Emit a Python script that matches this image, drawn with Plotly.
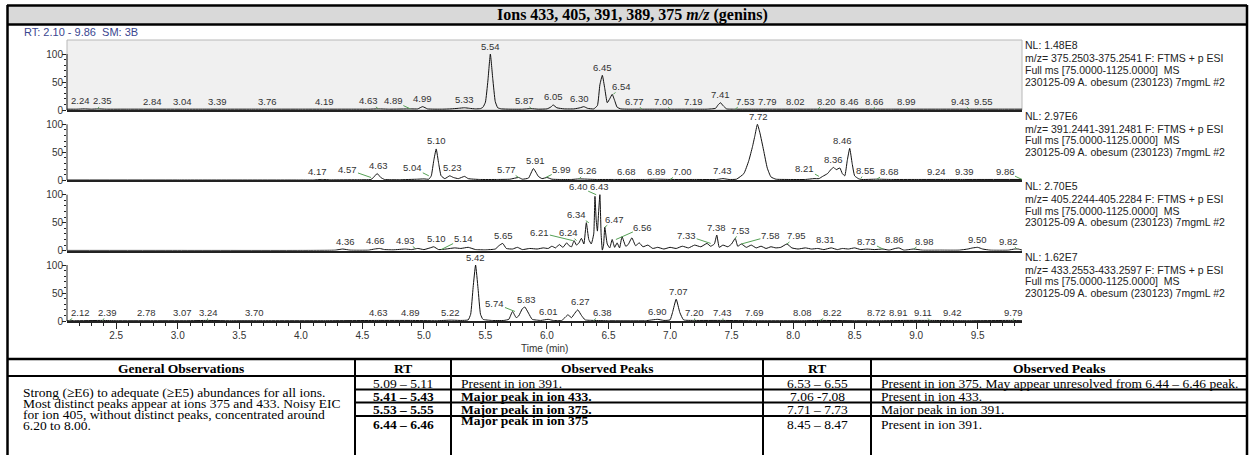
import numpy as np
import plotly.graph_objects as go

W, H = 1250, 455

# ---------------- data ----------------
title_text = "Ions 433, 405, 391, 389, 375 <i>m/z</i> (genins)"
rt_header = "RT: 2.10 - 9.86\u00a0\u00a0SM: 3B"
x_range = [2.10, 9.86]
x_ticks = [2.5, 3.0, 3.5, 4.0, 4.5, 5.0, 5.5, 6.0, 6.5, 7.0, 7.5, 8.0, 8.5, 9.0, 9.5]
y_ticks = [0, 50, 100]
x_title = "Time (min)"

# ion 375
t_375 = [
    2.10, 2.18, 2.24, 2.30, 2.35, 2.42, 2.60, 2.84, 3.04, 3.20,
    3.39, 3.60, 3.76, 4.00, 4.19, 4.40, 4.55, 4.63, 4.72, 4.89,
    4.95, 4.99, 5.03, 5.15, 5.22, 5.28, 5.33, 5.37, 5.42, 5.46,
    5.48, 5.50, 5.52, 5.54, 5.56, 5.58, 5.60, 5.63, 5.70, 5.80,
    5.87, 5.93, 6.00, 6.03, 6.05, 6.08, 6.14, 6.22, 6.27, 6.30,
    6.33, 6.38, 6.41, 6.43, 6.45, 6.47, 6.49, 6.51, 6.53, 6.55,
    6.57, 6.60, 6.66, 6.77, 6.90, 7.00, 7.19, 7.30, 7.37, 7.39,
    7.41, 7.43, 7.46, 7.53, 7.65, 7.79, 8.02, 8.20, 8.35, 8.46,
    8.66, 8.80, 8.99, 9.20, 9.43, 9.55, 9.70, 9.86]
i_375 = [
    1.5, 1.5, 2.0, 1.5, 2.0, 1.5, 1.5, 1.5, 1.5, 1.5,
    1.5, 1.5, 1.5, 1.5, 1.5, 1.5, 1.5, 2.0, 1.5, 2.0,
    2.0, 6.0, 2.0, 1.5, 2.0, 3.0, 4.0, 3.0, 2.0, 2.5,
    5.0, 14.0, 52.0, 100.0, 55.0, 15.0, 4.0, 2.0, 1.5, 1.5,
    2.5, 1.5, 2.0, 5.0, 9.0, 4.0, 2.0, 2.0, 4.0, 6.0,
    3.0, 2.0, 8.0, 45.0, 62.0, 38.0, 13.0, 20.0, 28.0, 17.0,
    5.0, 2.0, 1.5, 1.5, 1.5, 1.5, 1.5, 1.5, 3.0, 9.0,
    13.0, 8.0, 2.0, 1.5, 1.5, 1.5, 1.5, 1.5, 1.5, 1.5,
    1.5, 1.5, 1.5, 1.5, 1.5, 1.5, 1.5, 1.5]
lbl_375 = ["2.24", "2.35", "2.84", "3.04", "3.39", "3.76", "4.19", "4.63", "4.89", "4.99",
           "5.33", "5.54", "5.87", "6.05", "6.30", "6.45", "6.54", "6.77", "7.00", "7.19",
           "7.41", "7.53", "7.79", "8.02", "8.20", "8.46", "8.66", "8.99", "9.43", "9.55"]

# ion 391
t_391 = [
    2.10, 3.00, 4.00, 4.10, 4.17, 4.25, 4.45, 4.57, 4.59, 4.62,
    4.65, 4.68, 4.80, 4.95, 5.00, 5.04, 5.06, 5.08, 5.10, 5.12,
    5.14, 5.17, 5.21, 5.24, 5.28, 5.33, 5.36, 5.45, 5.60, 5.70,
    5.77, 5.80, 5.85, 5.89, 5.93, 5.96, 6.00, 6.04, 6.10, 6.20,
    6.26, 6.40, 6.55, 6.68, 6.80, 6.89, 7.00, 7.20, 7.38, 7.43,
    7.48, 7.54, 7.60, 7.64, 7.67, 7.69, 7.71, 7.73, 7.76, 7.79,
    7.82, 7.86, 7.95, 8.10, 8.17, 8.21, 8.24, 8.28, 8.31, 8.33,
    8.35, 8.38, 8.40, 8.42, 8.44, 8.46, 8.48, 8.50, 8.53, 8.55,
    8.68, 8.80, 9.00, 9.24, 9.39, 9.60, 9.86]
i_391 = [
    0.5, 0.5, 0.5, 0.5, 1.5, 0.8, 1.0, 1.5, 5.0, 12.0,
    5.0, 1.5, 1.0, 2.0, 2.5, 2.0, 8.0, 35.0, 56.0, 30.0,
    8.0, 3.0, 8.0, 5.0, 3.0, 7.0, 3.0, 1.5, 1.5, 2.0,
    5.0, 2.0, 4.0, 21.0, 7.0, 3.0, 5.0, 2.0, 1.5, 1.5,
    2.5, 1.5, 1.5, 1.5, 1.5, 2.0, 1.5, 1.5, 1.5, 3.0,
    1.5, 2.0, 12.0, 35.0, 60.0, 80.0, 100.0, 85.0, 54.0, 22.0,
    6.0, 2.0, 1.5, 1.5, 3.0, 3.0, 7.0, 12.0, 20.0, 23.0,
    19.0, 22.0, 12.0, 8.0, 35.0, 57.0, 30.0, 8.0, 3.0, 1.5,
    2.0, 1.5, 1.5, 1.5, 1.5, 1.5, 1.5]
lbl_391 = ["4.17", "4.57", "4.63", "5.04", "5.10", "5.23", "5.77", "5.91", "5.99", "6.26",
           "6.68", "6.89", "7.00", "7.43", "7.72", "8.21", "8.36", "8.46", "8.55", "8.68",
           "9.24", "9.39", "9.86"]

# ion 405
t_405 = [
    2.10, 3.00, 4.00, 4.28, 4.34, 4.40, 4.55, 4.60, 4.64, 4.68,
    4.75, 4.85, 4.90, 4.95, 5.00, 5.05, 5.08, 5.12, 5.18, 5.25,
    5.30, 5.36, 5.42, 5.50, 5.58, 5.61, 5.64, 5.67, 5.72, 5.76,
    5.80, 5.86, 5.92, 5.97, 6.01, 6.04, 6.07, 6.10, 6.13, 6.16,
    6.18, 6.20, 6.22, 6.24, 6.26, 6.28, 6.30, 6.32, 6.34, 6.36,
    6.38, 6.39, 6.40, 6.41, 6.42, 6.43, 6.44, 6.45, 6.46, 6.47,
    6.49, 6.51, 6.53, 6.55, 6.57, 6.59, 6.61, 6.64, 6.66, 6.69,
    6.72, 6.75, 6.78, 6.82, 6.86, 6.90, 6.95, 7.00, 7.05, 7.10,
    7.15, 7.20, 7.25, 7.30, 7.33, 7.36, 7.38, 7.40, 7.43, 7.47,
    7.50, 7.53, 7.55, 7.58, 7.62, 7.66, 7.70, 7.74, 7.78, 7.82,
    7.86, 7.90, 7.95, 7.99, 8.04, 8.10, 8.15, 8.20, 8.25, 8.31,
    8.36, 8.40, 8.45, 8.50, 8.55, 8.60, 8.66, 8.73, 8.78, 8.83,
    8.86, 8.90, 8.98, 9.05, 9.20, 9.35, 9.42, 9.46, 9.50, 9.54,
    9.60, 9.75, 9.80, 9.83, 9.86]
i_405 = [
    0.5, 0.5, 0.5, 1.0, 3.0, 1.0, 1.0, 3.0, 4.0, 2.0,
    1.5, 3.0, 2.0, 4.0, 2.0, 5.0, 7.0, 2.0, 3.0, 5.0,
    4.0, 6.0, 2.0, 1.5, 3.0, 9.0, 13.0, 4.0, 3.0, 6.0,
    2.0, 4.0, 3.0, 5.0, 4.0, 8.0, 5.0, 11.0, 6.0, 14.0,
    9.0, 7.0, 18.0, 10.0, 14.0, 22.0, 12.0, 50.0, 20.0, 12.0,
    30.0, 97.0, 55.0, 35.0, 70.0, 100.0, 30.0, 1.0, 10.0, 42.0,
    12.0, 5.0, 20.0, 6.0, 14.0, 5.0, 25.0, 8.0, 11.0, 23.0,
    9.0, 14.0, 7.0, 10.0, 4.0, 6.0, 3.0, 6.0, 4.0, 8.0,
    5.0, 10.0, 7.0, 13.0, 8.0, 12.0, 28.0, 6.0, 10.0, 7.0,
    12.0, 22.0, 8.0, 12.0, 6.0, 10.0, 5.0, 8.0, 4.0, 7.0,
    5.0, 6.0, 12.0, 5.0, 3.0, 5.0, 3.0, 4.0, 2.0, 5.0,
    2.0, 4.0, 3.0, 5.0, 2.0, 3.0, 2.0, 3.0, 1.0, 4.0,
    5.0, 1.0, 3.0, 1.0, 1.0, 1.0, 3.0, 5.0, 6.0, 3.0,
    1.0, 1.0, 3.0, 3.0, 1.0]
lbl_405 = ["4.36", "4.66", "4.93", "5.10", "5.14", "5.65", "6.21", "6.24", "6.34", "6.40",
           "6.43", "6.47", "6.56", "7.33", "7.38", "7.53", "7.58", "7.95", "8.31", "8.73",
           "8.86", "8.98", "9.50", "9.82"]

# ion 433
t_433 = [
    2.10, 2.12, 2.16, 2.39, 2.50, 2.78, 3.07, 3.24, 3.40, 3.70,
    4.20, 4.63, 4.89, 5.10, 5.22, 5.30, 5.36, 5.38, 5.40, 5.42,
    5.44, 5.46, 5.48, 5.55, 5.65, 5.69, 5.72, 5.75, 5.77, 5.80,
    5.82, 5.85, 5.88, 5.95, 6.01, 6.05, 6.12, 6.15, 6.17, 6.20,
    6.22, 6.25, 6.28, 6.31, 6.38, 6.50, 6.80, 6.90, 6.95, 7.00,
    7.02, 7.05, 7.08, 7.11, 7.20, 7.43, 7.69, 8.08, 8.22, 8.50,
    8.72, 8.91, 9.11, 9.42, 9.79, 9.86]
i_433 = [
    0.5, 1.0, 0.5, 1.0, 0.5, 0.5, 0.5, 1.0, 0.5, 0.5,
    0.5, 1.0, 1.0, 0.5, 1.5, 1.0, 2.0, 12.0, 60.0, 100.0,
    58.0, 12.0, 3.0, 1.0, 1.0, 3.0, 17.0, 6.0, 9.0, 22.0,
    25.0, 14.0, 3.0, 1.0, 3.0, 1.0, 1.0, 7.0, 11.0, 6.0,
    12.0, 20.0, 10.0, 2.0, 1.0, 0.5, 0.5, 3.0, 1.0, 2.0,
    15.0, 39.0, 15.0, 2.0, 1.0, 1.0, 0.5, 0.5, 1.0, 0.5,
    0.5, 1.0, 1.0, 0.5, 1.0, 0.5]
lbl_433 = ["2.12", "2.39", "2.78", "3.07", "3.24", "3.70", "4.63", "4.89", "5.22", "5.42",
           "5.74", "5.83", "6.01", "6.27", "6.38", "6.90", "7.07", "7.20", "7.43", "7.69",
           "8.08", "8.22", "8.72", "8.91", "9.11", "9.42", "9.79"]

nl_375 = "NL: 1.48E8"
nl_391 = "NL: 2.97E6"
nl_405 = "NL: 2.70E5"
nl_433 = "NL: 1.62E7"
mz_375 = "m/z= 375.2503-375.2541 F: FTMS + p ESI"
mz_391 = "m/z= 391.2441-391.2481 F: FTMS + p ESI"
mz_405 = "m/z= 405.2244-405.2284 F: FTMS + p ESI"
mz_433 = "m/z= 433.2553-433.2597 F: FTMS + p ESI"
scan_line = "Full ms [75.0000-1125.0000]\u00a0\u00a0MS"
sample_line = "230125-09 A. obesum (230123) 7mgmL #2"

# table
tbl_headers = ["General Observations", "RT", "Observed Peaks", "RT", "Observed Peaks"]
gen_obs_lines = ["Strong (\u2265E6) to adequate (\u2265E5) abundances for all ions.",
                 "Most distinct peaks appear at ions 375 and 433. Noisy EIC",
                 "for ion 405, without distinct peaks, concentrated around",
                 "6.20 to 8.00."]
rt_left = ["5.09 \u2013 5.11", "5.41 \u2013 5.43", "5.53 \u2013 5.55", "6.44 \u2013 6.46"]
obs_left = ["Present in ion 391.", "Major peak in ion 433.", "Major peak in ion 375.", "Major peak in ion 375"]
bold_left = [False, True, True, True]
rt_right = ["6.53 \u2013 6.55", "7.06 -7.08", "7.71 \u2013 7.73", "8.45 \u2013 8.47"]
obs_right = ["Present in ion 375. May appear unresolved from 6.44 \u2013 6.46 peak.",
             "Present in ion 433.", "Major peak in ion 391.", "Present in ion 391."]

# ---------------- style / layout ----------------
SANS = "Arial, 'Liberation Sans', sans-serif"
SERIF = "'Times New Roman', 'Liberation Serif', serif"
GREEN = "#55a055"
INK = "#222222"
LBL = "#333333"
LBL_SIZE = 9.5

# label placement tweaks in pixels (dx, dy) and labels drawn with green leader lines
off_375 = {"2.24": (-4, 0), "2.35": (5, 0), "2.84": (-6, 0), "3.39": (-8, 0), "3.76": (-4, 0),
           "4.63": (-10, 0), "4.89": (-17, 0), "5.87": (-6, 0), "6.30": (-4, 0), "6.54": (8, 0),
           "6.77": (-7, 0), "7.00": (-7, 0), "7.53": (10, 0), "8.20": (9, 0), "8.99": (-8, 0),
           "9.43": (-9, 0)}
grn_375 = {"2.35", "4.63", "4.89", "5.87", "6.54", "6.77", "7.00", "7.53", "8.20", "8.66", "9.43"}
off_391 = {"4.17": (-4, 0), "4.57": (-23, 0), "5.04": (-16, 0), "5.77": (-12, 0), "5.99": (16, 0),
           "6.26": (9, 0), "6.68": (-4, 0), "7.00": (12, 0), "8.21": (-14, 0),
           "8.36": (-4, 0), "8.46": (-7, 0), "8.55": (5, 0), "8.68": (13, 0), "9.24": (-9, 0),
           "9.86": (-17, 0)}
grn_391 = {"4.57", "5.04", "5.77", "5.99", "6.26", "7.00", "8.21", "8.55", "8.68", "9.86"}
off_405 = {"4.66": (-7, 0), "4.93": (-10, 0), "5.14": (22, -3), "6.21": (-33, 0), "6.24": (-8, 0),
           "6.34": (-12, 0), "6.40": (-18, 0), "6.47": (10, 0), "6.56": (27, -4), "7.33": (-24, 0),
           "7.53": (5, 0), "7.58": (29, 0), "7.95": (10, 0), "8.31": (-6, 0), "8.73": (-16, 0),
           "8.86": (-4, 0), "8.98": (11, 0), "9.82": (-9, 0)}
grn_405 = {"4.93", "5.14", "6.21", "6.24", "6.34", "6.40", "6.47", "6.56", "7.33", "7.53",
           "7.58", "7.95", "8.73", "8.98", "9.82"}
off_433 = {"2.12": (11, 0), "2.39": (5, 0), "2.78": (-4, 0), "3.07": (-4, 0), "3.24": (1, 0),
           "3.70": (-9, 0), "5.74": (-20, 0), "6.38": (9, 0), "8.22": (12, 0), "8.72": (-5, 0),
           "8.91": (-7, 0), "9.11": (-7, 0), "9.42": (-15, 0)}
grn_433 = {"2.12", "2.39", "3.24", "5.74", "6.38", "7.20", "7.43", "8.22", "9.11", "9.79"}

panels = [
    dict(t=t_375, i=i_375, labels=lbl_375, off=off_375, grn=grn_375, nl=nl_375, mz=mz_375),
    dict(t=t_391, i=i_391, labels=lbl_391, off=off_391, grn=grn_391, nl=nl_391, mz=mz_391),
    dict(t=t_405, i=i_405, labels=lbl_405, off=off_405, grn=grn_405, nl=nl_405, mz=mz_405),
    dict(t=t_433, i=i_433, labels=lbl_433, off=off_433, grn=grn_433, nl=nl_433, mz=mz_433),
]


def PX(x):
    return x / W


def PY(y):
    return 1 - y / H


def note(x, y, text, size, family, color="#000", xanchor="center", yanchor="middle"):
    return dict(x=PX(x), y=PY(y), xref="paper", yref="paper", text=text, showarrow=False,
                xanchor=xanchor, yanchor=yanchor, font=dict(family=family, size=size, color=color))


PLOT_L, PLOT_R = 67, 1022
panel_bottoms = [110, 180.3, 250.7, 321]
PANEL_H = 70

fig = go.Figure()
annotations = []
shapes = []
layout_axes = {}

minor_x = [round(v, 1) for v in np.arange(2.2, 9.86, 0.1) if round(v * 10) % 5 != 0]

for k, p in enumerate(panels):
    sfx = "" if k == 0 else str(k + 1)
    xa, ya = "x" + sfx, "y" + sfx
    fig.add_trace(go.Scatter(
        x=p["t"], y=p["i"], xaxis=xa, yaxis=ya, mode="lines",
        line=dict(color="#111111", width=1, shape="spline", smoothing=0.4),
        hoverinfo="skip", showlegend=False))
    bottom = panel_bottoms[k]
    top = bottom - PANEL_H
    xdict = dict(domain=[PX(PLOT_L), PX(PLOT_R)], range=x_range, anchor=ya,
                 showline=True, linewidth=2, linecolor=INK, showgrid=False, zeroline=False,
                 showticklabels=False, ticks="", fixedrange=True, automargin=False)
    if k > 0:
        xdict["matches"] = "x"
    if k == 3:
        xdict.update(dict(showticklabels=True, tickmode="array", tickvals=x_ticks,
                          ticktext=[f"{v:.1f}" for v in x_ticks], ticks="outside", ticklen=6,
                          tickwidth=1, tickcolor=INK, ticklabelstandoff=-2,
                          tickfont=dict(family=SANS, size=10, color=LBL),
                          minor=dict(tickmode="array", tickvals=minor_x, ticks="outside",
                                     ticklen=3, tickwidth=1, tickcolor=INK)))
    layout_axes["xaxis" + sfx] = xdict
    layout_axes["yaxis" + sfx] = dict(
        domain=[PY(bottom), PY(top)], range=[0, 125], anchor=xa, showgrid=False,
        zeroline=False, showline=False, tickmode="array", tickvals=y_ticks,
        ticks="outside", ticklen=4, tickwidth=1, tickcolor=INK, automargin=False,
        ticklabelstandoff=-3,
        tickfont=dict(family=SANS, size=10, color=LBL), fixedrange=True,
        minor=dict(tickmode="array", tickvals=[10, 20, 30, 40, 60, 70, 80, 90],
                   ticks="outside", ticklen=2, tickwidth=1, tickcolor=INK))
    # y axis line 0..100
    shapes.append(dict(type="line", xref=xa + " domain", yref=ya, x0=0, x1=0, y0=0, y1=100,
                       line=dict(color=INK, width=1)))
    if k == 0:
        shapes.append(dict(type="rect", xref=xa + " domain", yref=ya + " domain", x0=0, x1=1,
                           y0=0, y1=1, fillcolor="#f0f0f0", line=dict(color="#b8b8b8", width=1),
                           layer="below"))
    # peak labels
    ts = np.array(p["t"])
    ys = np.array(p["i"])
    for lab in p["labels"]:
        tv = float(lab)
        m = (ts >= tv - 0.031) & (ts <= tv + 0.031)
        yv = float(ys[m].max()) if m.any() else float(np.interp(tv, ts, ys))
        dx, dy = p["off"].get(lab, (0, 0))
        f = dict(family=SANS, size=LBL_SIZE, color=LBL)
        if lab in p["grn"]:
            annotations.append(dict(x=tv, y=yv, xref=xa, yref=ya, text=lab, showarrow=True,
                                    arrowhead=0, arrowwidth=1, arrowcolor=GREEN, ax=dx,
                                    ay=-8 + dy, font=f, borderpad=0, standoff=0,
                                    xanchor="center", yanchor="middle"))
        else:
            annotations.append(dict(x=tv, y=yv, xref=xa, yref=ya, text=lab, showarrow=False,
                                    xshift=dx, yshift=8 - dy, font=f,
                                    xanchor="center", yanchor="middle"))
    # right-side info text
    for txt, off in zip([p["nl"], p["mz"], scan_line, sample_line], [5.5, 18.5, 30, 41.5]):
        annotations.append(note(1023, top + off, txt, 10.5, SANS, INK, xanchor="left"))

# header texts
annotations.append(note(632, 15, "<b>" + title_text + "</b>", 16, SERIF))
annotations.append(note(22, 32.5, rt_header, 11, SANS, "#3a4690", xanchor="left"))
annotations.append(note((PLOT_L + PLOT_R) / 2, 348, x_title, 10, SANS, LBL))


# frame and title bar
def hline(y, x0, x1, w):
    return dict(type="line", xref="paper", yref="paper", x0=PX(x0), x1=PX(x1),
                y0=PY(y), y1=PY(y), line=dict(color="#000", width=w))


def vline(x, y0, y1, w):
    return dict(type="line", xref="paper", yref="paper", x0=PX(x), x1=PX(x),
                y0=PY(y0), y1=PY(y1), line=dict(color="#000", width=w))


shapes.append(dict(type="rect", xref="paper", yref="paper", x0=PX(7), x1=PX(1247),
                   y0=PY(24.5), y1=PY(5.5), fillcolor="#d9d9d9", line=dict(width=0),
                   layer="below"))
shapes.append(hline(5.5, 7, 1247, 2.5))
shapes.append(hline(24.5, 7, 1247, 2.5))
shapes.append(vline(7.5, 5, 460, 2.5))
shapes.append(vline(1247, 5, 460, 2.5))

# table
col_x = [7.5, 355, 451, 763, 871, 1247]
row_y = [359, 376, 389.5, 402.5, 416]
shapes.append(hline(row_y[0], 7, 1247, 2.5))
shapes.append(hline(row_y[1], 7, 1247, 2))
for ry in row_y[2:]:
    shapes.append(hline(ry, col_x[1], 1247, 2))
for cx in col_x[1:5]:
    shapes.append(vline(cx, row_y[0], 460, 2))

TF = 13.5
centers = [(col_x[i] + col_x[i + 1]) / 2 for i in range(5)]
for c, htxt in zip(centers, tbl_headers):
    annotations.append(note(c, 368, "<b>" + htxt + "</b>", TF, SERIF))
for j, line in enumerate(gen_obs_lines):
    annotations.append(note(21, 392 + 11 * j, line, TF, SERIF, xanchor="left"))
row_c = [383, 396, 409.5, 424]
obs_c = [383, 396, 409.5, 420.5]
for j in range(4):
    b0, b1 = ("<b>", "</b>") if bold_left[j] else ("", "")
    annotations.append(note(centers[1], row_c[j], b0 + rt_left[j] + b1, TF, SERIF))
    annotations.append(note(459, obs_c[j], b0 + obs_left[j] + b1, TF, SERIF, xanchor="left"))
    annotations.append(note(centers[3], row_c[j], rt_right[j], TF, SERIF))
    annotations.append(note(879, row_c[j], obs_right[j], TF, SERIF, xanchor="left"))

fig.update_layout(
    width=W, height=H, autosize=False,
    margin=dict(l=0, r=0, t=0, b=0, pad=0),
    paper_bgcolor="white", plot_bgcolor="rgba(0,0,0,0)",
    showlegend=False, annotations=annotations, shapes=shapes,
    **layout_axes)

fig.write_html("out.html", config={"displayModeBar": False})
